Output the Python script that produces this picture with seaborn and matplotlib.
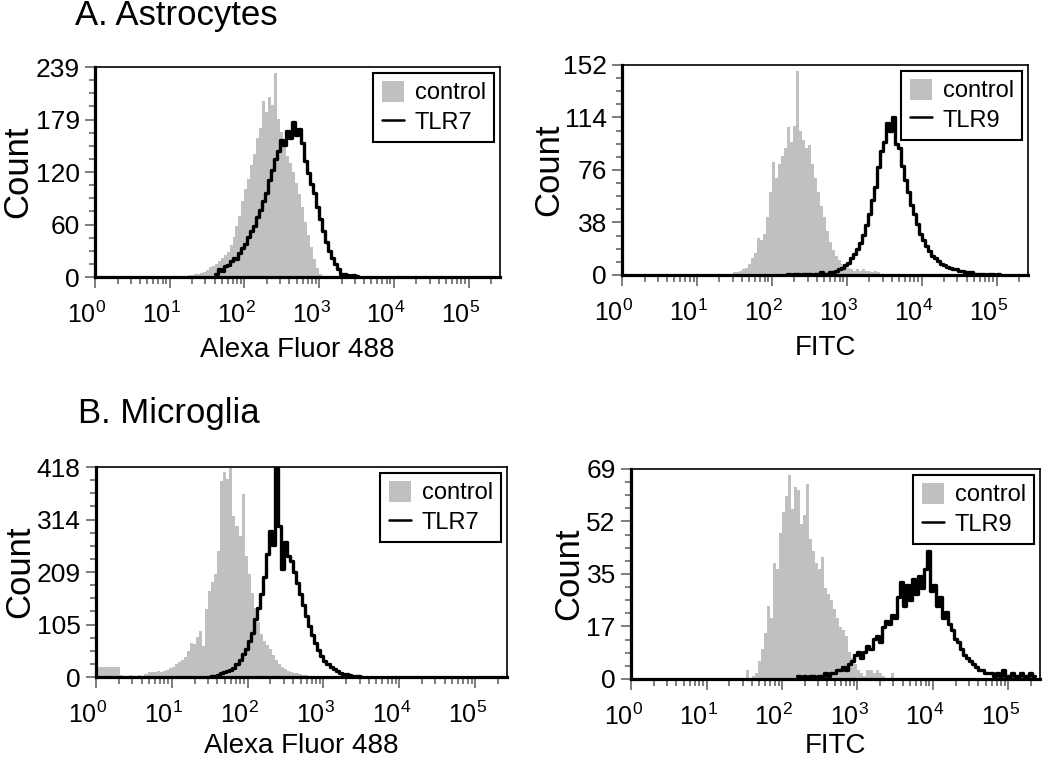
import numpy as np
import matplotlib
matplotlib.use("Agg")
import matplotlib.pyplot as plt
import seaborn as sns
from matplotlib.lines import Line2D
from matplotlib.patches import Patch
from matplotlib.ticker import FixedLocator, FixedFormatter, LogLocator, NullFormatter
from matplotlib.transforms import ScaledTranslation

# histogram channel width, in decades of fluorescence
BIN = 0.04

# A. Astrocytes, TLR7 (Alexa Fluor 488)
astro_ctrl7_start = 1.20
astro_ctrl7 = [1, 2, 2, 3, 4, 5, 6, 8, 11, 13, 15, 18, 22, 25, 29, 37, 46, 58, 70, 86,
               100, 112, 127, 140, 158, 170, 200, 188, 205, 196, 232, 180, 165, 148, 138, 130,
               120, 107, 94, 80, 63, 48, 34, 21, 10, 3, 1]
astro_tlr7_start = 1.60
astro_tlr7 = [4, 9, 7, 12, 14, 18, 22, 20, 27, 33, 38, 45, 52, 58, 68, 76, 86, 96, 110, 122,
              134, 143, 156, 150, 166, 158, 176, 162, 168, 152, 132, 118, 106, 96, 80, 66,
              52, 40, 30, 22, 15, 9, 4, 3, 2, 1, 2, 1]
astro7_yticks = ["0", "60", "120", "179", "239"]
astro7_ymax = 239

# A. Astrocytes, TLR9 (FITC)
astro_ctrl9_start = 1.44
astro_ctrl9 = [1, 2, 2, 3, 4, 5, 8, 12, 16, 27, 25, 30, 42, 60, 82, 70, 80, 86, 92, 107,
               96, 108, 148, 104, 98, 92, 94, 80, 70, 60, 50, 42, 32, 24, 18, 14, 11, 8,
               6, 5, 4, 3, 4, 3, 4, 3, 3, 2, 3, 2, 1, 1]
astro_tlr9_start = 2.20
astro_tlr9 = [1, 0, 1, 1, 0, 1, 1, 1, 0, 1, 1, 2, 1, 1, 2, 2, 3, 4, 5, 7,
              9, 12, 15, 19, 23, 29, 36, 44, 54, 64, 78, 90, 96, 110, 104, 114, 95, 92, 79, 69,
              60, 51, 44, 37, 30, 25, 21, 17, 14, 12, 10, 8, 7, 6, 5, 4, 4, 3, 3, 2,
              2, 2, 1, 1, 1, 1, 0, 1, 1, 0, 1]
astro9_yticks = ["0", "38", "76", "114", "152"]
astro9_ymax = 152

# B. Microglia, TLR7 (Alexa Fluor 488)
micro_ctrl7_start = 0.00
micro_ctrl7 = [20, 20, 20, 20, 20, 20, 20, 20, 4, 3, 3, 4, 3, 3, 4, 3, 5,
               9, 10, 10, 11, 10, 12, 14,
               17, 20, 25, 29, 33, 40, 52, 68, 66, 80, 92, 62, 135, 172, 190, 205, 250,
               390, 408, 395, 416, 320, 300, 280, 365, 240, 205, 168, 138, 110, 86, 72,
               64, 55, 44, 33, 26, 20, 15, 12, 10, 8, 7, 5, 4, 4, 3, 2, 1]
micro_tlr7_start = 1.48
micro_tlr7 = [1, 2, 3, 4, 7, 9, 12, 14, 18, 25, 33, 45, 56, 72, 88, 115, 138, 165, 200, 245,
              290, 262, 416, 300, 215, 268, 240, 230, 210, 188, 166, 143, 122, 102, 84, 67,
              54, 42, 32, 25, 19, 15, 11, 8, 6, 5, 4, 3, 2, 2, 1]
micro7_yticks = ["0", "105", "209", "314", "418"]
micro7_ymax = 418

# B. Microglia, TLR9 (FITC)
micro_ctrl9_start = 1.52
micro_ctrl9 = [3, 0, 1, 2, 6, 10, 15, 24, 20, 38, 36, 48, 55, 60, 67, 56, 63, 62, 51, 54,
               64, 46, 42, 38, 36, 40, 30, 28, 26, 23, 20, 17, 16, 14, 9, 7, 5, 3, 2, 1,
               3, 3, 2, 3, 2, 1, 0, 0, 2]
micro_tlr9_start = 2.20
micro_tlr9 = [1, 0, 1, 0, 1, 1, 0, 1, 1, 2, 1, 2, 2, 3, 3, 4, 3, 5, 6, 8,
              9, 7, 9, 11, 10, 13, 14, 12, 17, 19, 18, 21, 20, 27, 32, 24, 31, 26, 33, 28,
              34, 30, 36, 42, 29, 31, 24, 27, 20, 22, 18, 16, 13, 12, 10, 8, 7, 6, 5, 4,
              3, 3, 2, 2, 2, 1, 2, 1, 3, 1, 1, 2, 1, 1, 2, 1, 1, 2, 1]
micro9_yticks = ["0", "17", "35", "52", "69"]
micro9_ymax = 69

xtick_labels = [r"$10^{0}$", r"$10^{1}$", r"$10^{2}$", r"$10^{3}$", r"$10^{4}$", r"$10^{5}$"]

sns.set_style("ticks")
plt.rcParams["font.family"] = ["Liberation Sans", "DejaVu Sans"]
plt.rcParams["mathtext.fontset"] = "custom"
plt.rcParams["mathtext.rm"] = "Liberation Sans"
plt.rcParams["mathtext.it"] = "Liberation Sans:italic"
plt.rcParams["mathtext.bf"] = "Liberation Sans:bold"
plt.rcParams["text.color"] = "black"
plt.rcParams["axes.labelcolor"] = "black"

GRAY = "#c0c0c0"
TICK = "#5a5a5a"

fig = plt.figure(figsize=(10.5, 7.6), dpi=100)


def channels(start, counts):
    edges = start + BIN * np.arange(len(counts) + 1)
    centers = edges[:-1] + BIN / 2
    return 10 ** centers, edges.tolist()


def panel(rect, ctrl_start, ctrl, tlr_start, tlr, ymax, ylabels, xlabel, name, ylab_x, xlab_y):
    ax = fig.add_axes(rect)
    x, edges = channels(ctrl_start, ctrl)
    sns.histplot(x=x, weights=ctrl, bins=edges, log_scale=True, element="step", fill=True,
                 color=GRAY, alpha=1, linewidth=0, ax=ax)
    x, edges = channels(tlr_start, tlr)
    sns.histplot(x=x, weights=tlr, bins=edges, log_scale=True, element="step", fill=False,
                 color="black", linewidth=2.4, ax=ax)

    ax.set_xlim(1, 10 ** 5.42)
    ax.set_ylim(0, ymax)
    ax.xaxis.set_major_locator(FixedLocator([1, 10, 100, 1e3, 1e4, 1e5]))
    ax.xaxis.set_major_formatter(FixedFormatter(xtick_labels))
    ax.xaxis.set_minor_locator(LogLocator(base=10, subs=np.arange(2, 10), numticks=30))
    ax.xaxis.set_minor_formatter(NullFormatter())
    ax.yaxis.set_major_locator(FixedLocator(ymax * np.arange(5) / 4))
    ax.yaxis.set_major_formatter(FixedFormatter(ylabels))
    ax.yaxis.set_minor_locator(FixedLocator(ymax * np.arange(17) / 16))

    ax.tick_params(axis="both", which="both", direction="out", color=TICK, width=1.1,
                   labelcolor="black")
    ax.tick_params(axis="y", which="major", length=7, pad=4, labelsize=19)
    ax.tick_params(axis="y", which="minor", length=4)
    ax.tick_params(axis="x", which="major", length=8, pad=10, labelsize=18)
    ax.tick_params(axis="x", which="minor", length=5)
    for side in ["left", "bottom"]:
        ax.spines[side].set_linewidth(2.3)
        ax.spines[side].set_color("black")
    for side in ["top", "right"]:
        ax.spines[side].set_linewidth(1.2)
        ax.spines[side].set_color("black")

    shift = ScaledTranslation(-8 / 100, 0, fig.dpi_scale_trans)
    for lab in ax.get_xticklabels():
        lab.set_transform(lab.get_transform() + shift)

    ax.set_ylabel("Count", fontsize=25, va="center")
    ax.yaxis.set_label_coords(ylab_x, 0.5)
    ax.set_xlabel(xlabel, fontsize=20, va="baseline")
    ax.xaxis.set_label_coords(0.5, xlab_y)

    handles = [Patch(facecolor=GRAY, edgecolor="none"),
               Line2D([], [], color="black", lw=1.8)]
    leg = ax.legend(handles, ["control", name], loc="upper right", fontsize=17,
                    frameon=True, fancybox=False, edgecolor="black", framealpha=1,
                    borderpad=0.35, borderaxespad=0.25, handlelength=0.95, handleheight=0.95,
                    handletextpad=0.45, labelspacing=0.25)
    leg.get_frame().set_linewidth(1.5)
    return ax


panel([0.0905, 0.6355, 0.3857, 0.2763], astro_ctrl7_start, astro_ctrl7, astro_tlr7_start,
      astro_tlr7, astro7_ymax, astro7_yticks, "Alexa Fluor 488", "TLR7", -0.19, -0.381)
panel([0.5924, 0.6382, 0.3867, 0.2763], astro_ctrl9_start, astro_ctrl9, astro_tlr9_start,
      astro_tlr9, astro9_ymax, astro9_yticks, "FITC", "TLR9", -0.18, -0.381)
panel([0.0914, 0.1092, 0.3914, 0.2763], micro_ctrl7_start, micro_ctrl7, micro_tlr7_start,
      micro_tlr7, micro7_ymax, micro7_yticks, "Alexa Fluor 488", "TLR7", -0.185, -0.362)
panel([0.6010, 0.1066, 0.3895, 0.2763], micro_ctrl9_start, micro_ctrl9, micro_tlr9_start,
      micro_tlr9, micro9_ymax, micro9_yticks, "FITC", "TLR9", -0.153, -0.352)

fig.text(75 / 1050, 1 - 25 / 760, "A. Astrocytes", fontsize=25, va="baseline")
fig.text(78 / 1050, 1 - 423 / 760, "B. Microglia", fontsize=25, va="baseline")

fig.savefig("out.png", dpi=100)
